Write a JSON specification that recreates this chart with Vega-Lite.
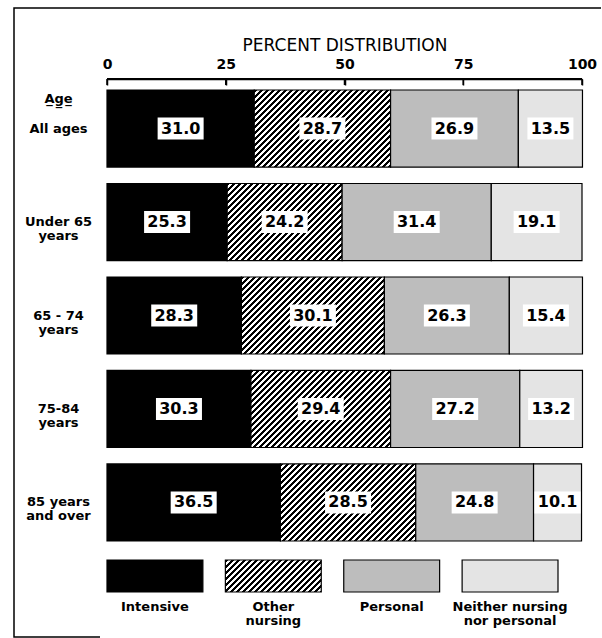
{
  "$schema": "https://vega.github.io/schema/vega-lite/v6.json",
  "width": 587,
  "height": 629,
  "autosize": {"type": "none"},
  "padding": {"left": 14, "top": 8, "right": 1, "bottom": 1},
  "background": "white",
  "config": {"view": {"stroke": "#000", "strokeWidth": 1.5, "strokeDash": [587, 1130, 715]}, "font": "DejaVu Sans"},
  "datasets": {
    "bars": [
      {"age": "All ages", "cat": "Intensive", "k": 1, "pct": 31.0},
      {"age": "All ages", "cat": "Other nursing", "k": 2, "pct": 28.7},
      {"age": "All ages", "cat": "Personal", "k": 3, "pct": 26.9},
      {"age": "All ages", "cat": "Neither nursing nor personal", "k": 4, "pct": 13.5},
      {"age": "Under 65\nyears", "cat": "Intensive", "k": 1, "pct": 25.3},
      {"age": "Under 65\nyears", "cat": "Other nursing", "k": 2, "pct": 24.2},
      {"age": "Under 65\nyears", "cat": "Personal", "k": 3, "pct": 31.4},
      {"age": "Under 65\nyears", "cat": "Neither nursing nor personal", "k": 4, "pct": 19.1},
      {"age": "65 - 74\nyears", "cat": "Intensive", "k": 1, "pct": 28.3},
      {"age": "65 - 74\nyears", "cat": "Other nursing", "k": 2, "pct": 30.1},
      {"age": "65 - 74\nyears", "cat": "Personal", "k": 3, "pct": 26.3},
      {"age": "65 - 74\nyears", "cat": "Neither nursing nor personal", "k": 4, "pct": 15.4},
      {"age": "75-84\nyears", "cat": "Intensive", "k": 1, "pct": 30.3},
      {"age": "75-84\nyears", "cat": "Other nursing", "k": 2, "pct": 29.4},
      {"age": "75-84\nyears", "cat": "Personal", "k": 3, "pct": 27.2},
      {"age": "75-84\nyears", "cat": "Neither nursing nor personal", "k": 4, "pct": 13.2},
      {"age": "85 years\nand over", "cat": "Intensive", "k": 1, "pct": 36.5},
      {"age": "85 years\nand over", "cat": "Other nursing", "k": 2, "pct": 28.5},
      {"age": "85 years\nand over", "cat": "Personal", "k": 3, "pct": 24.8},
      {"age": "85 years\nand over", "cat": "Neither nursing nor personal", "k": 4, "pct": 10.1}
    ],
    "legend": [
      {"cat": "Intensive", "label": "Intensive"},
      {"cat": "Other nursing", "label": "Other\nnursing"},
      {"cat": "Personal", "label": "Personal"},
      {"cat": "Neither nursing nor personal", "label": "Neither nursing\nnor personal"}
    ],
    "ticks": [{"t": 0}, {"t": 25}, {"t": 50}, {"t": 75}, {"t": 100}]
  },
  "layer": [
    {
      "data": {"name": "bars"},
      "encoding": {
        "y": {
          "field": "age", "type": "nominal", "sort": null,
          "scale": {"domain": ["All ages", "Under 65\nyears", "65 - 74\nyears", "75-84\nyears", "85 years\nand over"], "range": [82, 533], "paddingInner": 0.176, "paddingOuter": 0},
          "axis": {
            "orient": "left", "offset": -93, "domain": false, "ticks": false,
            "labelAlign": "center", "labelPadding": 49, "labelBaseline": "middle",
            "labelFont": "DejaVu Sans", "labelFontWeight": "bold", "labelFontSize": 13, "labelColor": "#000",
            "labelLineHeight": 14, "labelExpr": "split(datum.value, '\\n')",
            "title": "A\u0332g\u0332e\u0332", "titleAngle": 0, "titleAlign": "center", "titleBaseline": "middle",
            "titleX": -49, "titleY": 90, "titleFont": "DejaVu Sans", "titleFontSize": 13, "titleFontWeight": "bold", "titleColor": "#000"
          }
        },
        "detail": {"field": "cat"},
        "order": {"field": "k"}
      },
      "layer": [
        {
          "mark": {"type": "bar", "stroke": "#000", "strokeWidth": 1.2},
          "encoding": {
            "x": {
              "field": "pct", "type": "quantitative", "stack": "zero",
              "scale": {"domain": [0, 100], "range": [93, 568], "nice": false, "zero": false},
              "axis": {
                "orient": "top", "offset": -71, "values": [0, 25, 50, 75, 100],
                "domain": true, "domainColor": "#000", "domainWidth": 1.5,
                "ticks": true, "tickSize": -6, "tickColor": "#000", "tickWidth": 1.5, "grid": false,
                "labelPadding": 14, "labelFont": "DejaVu Sans", "labelFontSize": 14, "labelFontWeight": "bold", "labelColor": "#000",
                "labelFlush": false, "labelOverlap": false,
                "title": "PERCENT DISTRIBUTION", "titleFont": "DejaVu Sans", "titleFontSize": 17, "titleFontWeight": "normal", "titleColor": "#000", "titlePadding": 3
              }
            },
            "fill": {
              "condition": [
                {"test": "datum.cat === 'Intensive'", "value": "#000"},
                {"test": "datum.cat === 'Other nursing' && datum.pct === 28.7", "value": {"gradient": "linear", "x1": 0, "y1": 0, "x2": 1.3344, "y2": 0.7541, "stops": [
{"offset":0,"color":"#000"},{"offset":0.0125,"color":"#000"},{"offset":0.0125,"color":"#fff"},{"offset":0.025,"color":"#fff"},
{"offset":0.025,"color":"#000"},{"offset":0.0375,"color":"#000"},{"offset":0.0375,"color":"#fff"},{"offset":0.05,"color":"#fff"},
{"offset":0.05,"color":"#000"},{"offset":0.0625,"color":"#000"},{"offset":0.0625,"color":"#fff"},{"offset":0.075,"color":"#fff"},
{"offset":0.075,"color":"#000"},{"offset":0.0875,"color":"#000"},{"offset":0.0875,"color":"#fff"},{"offset":0.1,"color":"#fff"},
{"offset":0.1,"color":"#000"},{"offset":0.1125,"color":"#000"},{"offset":0.1125,"color":"#fff"},{"offset":0.125,"color":"#fff"},
{"offset":0.125,"color":"#000"},{"offset":0.1375,"color":"#000"},{"offset":0.1375,"color":"#fff"},{"offset":0.15,"color":"#fff"},
{"offset":0.15,"color":"#000"},{"offset":0.1625,"color":"#000"},{"offset":0.1625,"color":"#fff"},{"offset":0.175,"color":"#fff"},
{"offset":0.175,"color":"#000"},{"offset":0.1875,"color":"#000"},{"offset":0.1875,"color":"#fff"},{"offset":0.2,"color":"#fff"},
{"offset":0.2,"color":"#000"},{"offset":0.2125,"color":"#000"},{"offset":0.2125,"color":"#fff"},{"offset":0.225,"color":"#fff"},
{"offset":0.225,"color":"#000"},{"offset":0.2375,"color":"#000"},{"offset":0.2375,"color":"#fff"},{"offset":0.25,"color":"#fff"},
{"offset":0.25,"color":"#000"},{"offset":0.2625,"color":"#000"},{"offset":0.2625,"color":"#fff"},{"offset":0.275,"color":"#fff"},
{"offset":0.275,"color":"#000"},{"offset":0.2875,"color":"#000"},{"offset":0.2875,"color":"#fff"},{"offset":0.3,"color":"#fff"},
{"offset":0.3,"color":"#000"},{"offset":0.3125,"color":"#000"},{"offset":0.3125,"color":"#fff"},{"offset":0.325,"color":"#fff"},
{"offset":0.325,"color":"#000"},{"offset":0.3375,"color":"#000"},{"offset":0.3375,"color":"#fff"},{"offset":0.35,"color":"#fff"},
{"offset":0.35,"color":"#000"},{"offset":0.3625,"color":"#000"},{"offset":0.3625,"color":"#fff"},{"offset":0.375,"color":"#fff"},
{"offset":0.375,"color":"#000"},{"offset":0.3875,"color":"#000"},{"offset":0.3875,"color":"#fff"},{"offset":0.4,"color":"#fff"},
{"offset":0.4,"color":"#000"},{"offset":0.4125,"color":"#000"},{"offset":0.4125,"color":"#fff"},{"offset":0.425,"color":"#fff"},
{"offset":0.425,"color":"#000"},{"offset":0.4375,"color":"#000"},{"offset":0.4375,"color":"#fff"},{"offset":0.45,"color":"#fff"},
{"offset":0.45,"color":"#000"},{"offset":0.4625,"color":"#000"},{"offset":0.4625,"color":"#fff"},{"offset":0.475,"color":"#fff"},
{"offset":0.475,"color":"#000"},{"offset":0.4875,"color":"#000"},{"offset":0.4875,"color":"#fff"},{"offset":0.5,"color":"#fff"},
{"offset":0.5,"color":"#000"},{"offset":0.5125,"color":"#000"},{"offset":0.5125,"color":"#fff"},{"offset":0.525,"color":"#fff"},
{"offset":0.525,"color":"#000"},{"offset":0.5375,"color":"#000"},{"offset":0.5375,"color":"#fff"},{"offset":0.55,"color":"#fff"},
{"offset":0.55,"color":"#000"},{"offset":0.5625,"color":"#000"},{"offset":0.5625,"color":"#fff"},{"offset":0.575,"color":"#fff"},
{"offset":0.575,"color":"#000"},{"offset":0.5875,"color":"#000"},{"offset":0.5875,"color":"#fff"},{"offset":0.6,"color":"#fff"},
{"offset":0.6,"color":"#000"},{"offset":0.6125,"color":"#000"},{"offset":0.6125,"color":"#fff"},{"offset":0.625,"color":"#fff"},
{"offset":0.625,"color":"#000"},{"offset":0.6375,"color":"#000"},{"offset":0.6375,"color":"#fff"},{"offset":0.65,"color":"#fff"},
{"offset":0.65,"color":"#000"},{"offset":0.6625,"color":"#000"},{"offset":0.6625,"color":"#fff"},{"offset":0.675,"color":"#fff"},
{"offset":0.675,"color":"#000"},{"offset":0.6875,"color":"#000"},{"offset":0.6875,"color":"#fff"},{"offset":0.7,"color":"#fff"},
{"offset":0.7,"color":"#000"},{"offset":0.7125,"color":"#000"},{"offset":0.7125,"color":"#fff"},{"offset":0.725,"color":"#fff"},
{"offset":0.725,"color":"#000"},{"offset":0.7375,"color":"#000"},{"offset":0.7375,"color":"#fff"},{"offset":0.75,"color":"#fff"},
{"offset":0.75,"color":"#000"},{"offset":0.7625,"color":"#000"},{"offset":0.7625,"color":"#fff"},{"offset":0.775,"color":"#fff"},
{"offset":0.775,"color":"#000"},{"offset":0.7875,"color":"#000"},{"offset":0.7875,"color":"#fff"},{"offset":0.8,"color":"#fff"},
{"offset":0.8,"color":"#000"},{"offset":0.8125,"color":"#000"},{"offset":0.8125,"color":"#fff"},{"offset":0.825,"color":"#fff"},
{"offset":0.825,"color":"#000"},{"offset":0.8375,"color":"#000"},{"offset":0.8375,"color":"#fff"},{"offset":0.85,"color":"#fff"},
{"offset":0.85,"color":"#000"},{"offset":0.8625,"color":"#000"},{"offset":0.8625,"color":"#fff"},{"offset":0.875,"color":"#fff"},
{"offset":0.875,"color":"#000"},{"offset":0.8875,"color":"#000"},{"offset":0.8875,"color":"#fff"},{"offset":0.9,"color":"#fff"},
{"offset":0.9,"color":"#000"},{"offset":0.9125,"color":"#000"},{"offset":0.9125,"color":"#fff"},{"offset":0.925,"color":"#fff"}
                ]}},
                {"test": "datum.cat === 'Other nursing' && datum.pct === 24.2", "value": {"gradient": "linear", "x1": 0, "y1": 0, "x2": 1.4407, "y2": 0.9656, "stops": [
{"offset":0,"color":"#000"},{"offset":0.0125,"color":"#000"},{"offset":0.0125,"color":"#fff"},{"offset":0.025,"color":"#fff"},
{"offset":0.025,"color":"#000"},{"offset":0.0375,"color":"#000"},{"offset":0.0375,"color":"#fff"},{"offset":0.05,"color":"#fff"},
{"offset":0.05,"color":"#000"},{"offset":0.0625,"color":"#000"},{"offset":0.0625,"color":"#fff"},{"offset":0.075,"color":"#fff"},
{"offset":0.075,"color":"#000"},{"offset":0.0875,"color":"#000"},{"offset":0.0875,"color":"#fff"},{"offset":0.1,"color":"#fff"},
{"offset":0.1,"color":"#000"},{"offset":0.1125,"color":"#000"},{"offset":0.1125,"color":"#fff"},{"offset":0.125,"color":"#fff"},
{"offset":0.125,"color":"#000"},{"offset":0.1375,"color":"#000"},{"offset":0.1375,"color":"#fff"},{"offset":0.15,"color":"#fff"},
{"offset":0.15,"color":"#000"},{"offset":0.1625,"color":"#000"},{"offset":0.1625,"color":"#fff"},{"offset":0.175,"color":"#fff"},
{"offset":0.175,"color":"#000"},{"offset":0.1875,"color":"#000"},{"offset":0.1875,"color":"#fff"},{"offset":0.2,"color":"#fff"},
{"offset":0.2,"color":"#000"},{"offset":0.2125,"color":"#000"},{"offset":0.2125,"color":"#fff"},{"offset":0.225,"color":"#fff"},
{"offset":0.225,"color":"#000"},{"offset":0.2375,"color":"#000"},{"offset":0.2375,"color":"#fff"},{"offset":0.25,"color":"#fff"},
{"offset":0.25,"color":"#000"},{"offset":0.2625,"color":"#000"},{"offset":0.2625,"color":"#fff"},{"offset":0.275,"color":"#fff"},
{"offset":0.275,"color":"#000"},{"offset":0.2875,"color":"#000"},{"offset":0.2875,"color":"#fff"},{"offset":0.3,"color":"#fff"},
{"offset":0.3,"color":"#000"},{"offset":0.3125,"color":"#000"},{"offset":0.3125,"color":"#fff"},{"offset":0.325,"color":"#fff"},
{"offset":0.325,"color":"#000"},{"offset":0.3375,"color":"#000"},{"offset":0.3375,"color":"#fff"},{"offset":0.35,"color":"#fff"},
{"offset":0.35,"color":"#000"},{"offset":0.3625,"color":"#000"},{"offset":0.3625,"color":"#fff"},{"offset":0.375,"color":"#fff"},
{"offset":0.375,"color":"#000"},{"offset":0.3875,"color":"#000"},{"offset":0.3875,"color":"#fff"},{"offset":0.4,"color":"#fff"},
{"offset":0.4,"color":"#000"},{"offset":0.4125,"color":"#000"},{"offset":0.4125,"color":"#fff"},{"offset":0.425,"color":"#fff"},
{"offset":0.425,"color":"#000"},{"offset":0.4375,"color":"#000"},{"offset":0.4375,"color":"#fff"},{"offset":0.45,"color":"#fff"},
{"offset":0.45,"color":"#000"},{"offset":0.4625,"color":"#000"},{"offset":0.4625,"color":"#fff"},{"offset":0.475,"color":"#fff"},
{"offset":0.475,"color":"#000"},{"offset":0.4875,"color":"#000"},{"offset":0.4875,"color":"#fff"},{"offset":0.5,"color":"#fff"},
{"offset":0.5,"color":"#000"},{"offset":0.5125,"color":"#000"},{"offset":0.5125,"color":"#fff"},{"offset":0.525,"color":"#fff"},
{"offset":0.525,"color":"#000"},{"offset":0.5375,"color":"#000"},{"offset":0.5375,"color":"#fff"},{"offset":0.55,"color":"#fff"},
{"offset":0.55,"color":"#000"},{"offset":0.5625,"color":"#000"},{"offset":0.5625,"color":"#fff"},{"offset":0.575,"color":"#fff"},
{"offset":0.575,"color":"#000"},{"offset":0.5875,"color":"#000"},{"offset":0.5875,"color":"#fff"},{"offset":0.6,"color":"#fff"},
{"offset":0.6,"color":"#000"},{"offset":0.6125,"color":"#000"},{"offset":0.6125,"color":"#fff"},{"offset":0.625,"color":"#fff"},
{"offset":0.625,"color":"#000"},{"offset":0.6375,"color":"#000"},{"offset":0.6375,"color":"#fff"},{"offset":0.65,"color":"#fff"},
{"offset":0.65,"color":"#000"},{"offset":0.6625,"color":"#000"},{"offset":0.6625,"color":"#fff"},{"offset":0.675,"color":"#fff"},
{"offset":0.675,"color":"#000"},{"offset":0.6875,"color":"#000"},{"offset":0.6875,"color":"#fff"},{"offset":0.7,"color":"#fff"},
{"offset":0.7,"color":"#000"},{"offset":0.7125,"color":"#000"},{"offset":0.7125,"color":"#fff"},{"offset":0.725,"color":"#fff"},
{"offset":0.725,"color":"#000"},{"offset":0.7375,"color":"#000"},{"offset":0.7375,"color":"#fff"},{"offset":0.75,"color":"#fff"},
{"offset":0.75,"color":"#000"},{"offset":0.7625,"color":"#000"},{"offset":0.7625,"color":"#fff"},{"offset":0.775,"color":"#fff"},
{"offset":0.775,"color":"#000"},{"offset":0.7875,"color":"#000"},{"offset":0.7875,"color":"#fff"},{"offset":0.8,"color":"#fff"},
{"offset":0.8,"color":"#000"},{"offset":0.8125,"color":"#000"},{"offset":0.8125,"color":"#fff"},{"offset":0.825,"color":"#fff"}
                ]}},
                {"test": "datum.cat === 'Other nursing' && datum.pct === 30.1", "value": {"gradient": "linear", "x1": 0, "y1": 0, "x2": 1.3009, "y2": 0.701, "stops": [
{"offset":0,"color":"#000"},{"offset":0.0125,"color":"#000"},{"offset":0.0125,"color":"#fff"},{"offset":0.025,"color":"#fff"},
{"offset":0.025,"color":"#000"},{"offset":0.0375,"color":"#000"},{"offset":0.0375,"color":"#fff"},{"offset":0.05,"color":"#fff"},
{"offset":0.05,"color":"#000"},{"offset":0.0625,"color":"#000"},{"offset":0.0625,"color":"#fff"},{"offset":0.075,"color":"#fff"},
{"offset":0.075,"color":"#000"},{"offset":0.0875,"color":"#000"},{"offset":0.0875,"color":"#fff"},{"offset":0.1,"color":"#fff"},
{"offset":0.1,"color":"#000"},{"offset":0.1125,"color":"#000"},{"offset":0.1125,"color":"#fff"},{"offset":0.125,"color":"#fff"},
{"offset":0.125,"color":"#000"},{"offset":0.1375,"color":"#000"},{"offset":0.1375,"color":"#fff"},{"offset":0.15,"color":"#fff"},
{"offset":0.15,"color":"#000"},{"offset":0.1625,"color":"#000"},{"offset":0.1625,"color":"#fff"},{"offset":0.175,"color":"#fff"},
{"offset":0.175,"color":"#000"},{"offset":0.1875,"color":"#000"},{"offset":0.1875,"color":"#fff"},{"offset":0.2,"color":"#fff"},
{"offset":0.2,"color":"#000"},{"offset":0.2125,"color":"#000"},{"offset":0.2125,"color":"#fff"},{"offset":0.225,"color":"#fff"},
{"offset":0.225,"color":"#000"},{"offset":0.2375,"color":"#000"},{"offset":0.2375,"color":"#fff"},{"offset":0.25,"color":"#fff"},
{"offset":0.25,"color":"#000"},{"offset":0.2625,"color":"#000"},{"offset":0.2625,"color":"#fff"},{"offset":0.275,"color":"#fff"},
{"offset":0.275,"color":"#000"},{"offset":0.2875,"color":"#000"},{"offset":0.2875,"color":"#fff"},{"offset":0.3,"color":"#fff"},
{"offset":0.3,"color":"#000"},{"offset":0.3125,"color":"#000"},{"offset":0.3125,"color":"#fff"},{"offset":0.325,"color":"#fff"},
{"offset":0.325,"color":"#000"},{"offset":0.3375,"color":"#000"},{"offset":0.3375,"color":"#fff"},{"offset":0.35,"color":"#fff"},
{"offset":0.35,"color":"#000"},{"offset":0.3625,"color":"#000"},{"offset":0.3625,"color":"#fff"},{"offset":0.375,"color":"#fff"},
{"offset":0.375,"color":"#000"},{"offset":0.3875,"color":"#000"},{"offset":0.3875,"color":"#fff"},{"offset":0.4,"color":"#fff"},
{"offset":0.4,"color":"#000"},{"offset":0.4125,"color":"#000"},{"offset":0.4125,"color":"#fff"},{"offset":0.425,"color":"#fff"},
{"offset":0.425,"color":"#000"},{"offset":0.4375,"color":"#000"},{"offset":0.4375,"color":"#fff"},{"offset":0.45,"color":"#fff"},
{"offset":0.45,"color":"#000"},{"offset":0.4625,"color":"#000"},{"offset":0.4625,"color":"#fff"},{"offset":0.475,"color":"#fff"},
{"offset":0.475,"color":"#000"},{"offset":0.4875,"color":"#000"},{"offset":0.4875,"color":"#fff"},{"offset":0.5,"color":"#fff"},
{"offset":0.5,"color":"#000"},{"offset":0.5125,"color":"#000"},{"offset":0.5125,"color":"#fff"},{"offset":0.525,"color":"#fff"},
{"offset":0.525,"color":"#000"},{"offset":0.5375,"color":"#000"},{"offset":0.5375,"color":"#fff"},{"offset":0.55,"color":"#fff"},
{"offset":0.55,"color":"#000"},{"offset":0.5625,"color":"#000"},{"offset":0.5625,"color":"#fff"},{"offset":0.575,"color":"#fff"},
{"offset":0.575,"color":"#000"},{"offset":0.5875,"color":"#000"},{"offset":0.5875,"color":"#fff"},{"offset":0.6,"color":"#fff"},
{"offset":0.6,"color":"#000"},{"offset":0.6125,"color":"#000"},{"offset":0.6125,"color":"#fff"},{"offset":0.625,"color":"#fff"},
{"offset":0.625,"color":"#000"},{"offset":0.6375,"color":"#000"},{"offset":0.6375,"color":"#fff"},{"offset":0.65,"color":"#fff"},
{"offset":0.65,"color":"#000"},{"offset":0.6625,"color":"#000"},{"offset":0.6625,"color":"#fff"},{"offset":0.675,"color":"#fff"},
{"offset":0.675,"color":"#000"},{"offset":0.6875,"color":"#000"},{"offset":0.6875,"color":"#fff"},{"offset":0.7,"color":"#fff"},
{"offset":0.7,"color":"#000"},{"offset":0.7125,"color":"#000"},{"offset":0.7125,"color":"#fff"},{"offset":0.725,"color":"#fff"},
{"offset":0.725,"color":"#000"},{"offset":0.7375,"color":"#000"},{"offset":0.7375,"color":"#fff"},{"offset":0.75,"color":"#fff"},
{"offset":0.75,"color":"#000"},{"offset":0.7625,"color":"#000"},{"offset":0.7625,"color":"#fff"},{"offset":0.775,"color":"#fff"},
{"offset":0.775,"color":"#000"},{"offset":0.7875,"color":"#000"},{"offset":0.7875,"color":"#fff"},{"offset":0.8,"color":"#fff"},
{"offset":0.8,"color":"#000"},{"offset":0.8125,"color":"#000"},{"offset":0.8125,"color":"#fff"},{"offset":0.825,"color":"#fff"},
{"offset":0.825,"color":"#000"},{"offset":0.8375,"color":"#000"},{"offset":0.8375,"color":"#fff"},{"offset":0.85,"color":"#fff"},
{"offset":0.85,"color":"#000"},{"offset":0.8625,"color":"#000"},{"offset":0.8625,"color":"#fff"},{"offset":0.875,"color":"#fff"},
{"offset":0.875,"color":"#000"},{"offset":0.8875,"color":"#000"},{"offset":0.8875,"color":"#fff"},{"offset":0.9,"color":"#fff"},
{"offset":0.9,"color":"#000"},{"offset":0.9125,"color":"#000"},{"offset":0.9125,"color":"#fff"},{"offset":0.925,"color":"#fff"}
                ]}},
                {"test": "datum.cat === 'Other nursing' && datum.pct === 29.4", "value": {"gradient": "linear", "x1": 0, "y1": 0, "x2": 1.3176, "y2": 0.7269, "stops": [
{"offset":0,"color":"#000"},{"offset":0.0125,"color":"#000"},{"offset":0.0125,"color":"#fff"},{"offset":0.025,"color":"#fff"},
{"offset":0.025,"color":"#000"},{"offset":0.0375,"color":"#000"},{"offset":0.0375,"color":"#fff"},{"offset":0.05,"color":"#fff"},
{"offset":0.05,"color":"#000"},{"offset":0.0625,"color":"#000"},{"offset":0.0625,"color":"#fff"},{"offset":0.075,"color":"#fff"},
{"offset":0.075,"color":"#000"},{"offset":0.0875,"color":"#000"},{"offset":0.0875,"color":"#fff"},{"offset":0.1,"color":"#fff"},
{"offset":0.1,"color":"#000"},{"offset":0.1125,"color":"#000"},{"offset":0.1125,"color":"#fff"},{"offset":0.125,"color":"#fff"},
{"offset":0.125,"color":"#000"},{"offset":0.1375,"color":"#000"},{"offset":0.1375,"color":"#fff"},{"offset":0.15,"color":"#fff"},
{"offset":0.15,"color":"#000"},{"offset":0.1625,"color":"#000"},{"offset":0.1625,"color":"#fff"},{"offset":0.175,"color":"#fff"},
{"offset":0.175,"color":"#000"},{"offset":0.1875,"color":"#000"},{"offset":0.1875,"color":"#fff"},{"offset":0.2,"color":"#fff"},
{"offset":0.2,"color":"#000"},{"offset":0.2125,"color":"#000"},{"offset":0.2125,"color":"#fff"},{"offset":0.225,"color":"#fff"},
{"offset":0.225,"color":"#000"},{"offset":0.2375,"color":"#000"},{"offset":0.2375,"color":"#fff"},{"offset":0.25,"color":"#fff"},
{"offset":0.25,"color":"#000"},{"offset":0.2625,"color":"#000"},{"offset":0.2625,"color":"#fff"},{"offset":0.275,"color":"#fff"},
{"offset":0.275,"color":"#000"},{"offset":0.2875,"color":"#000"},{"offset":0.2875,"color":"#fff"},{"offset":0.3,"color":"#fff"},
{"offset":0.3,"color":"#000"},{"offset":0.3125,"color":"#000"},{"offset":0.3125,"color":"#fff"},{"offset":0.325,"color":"#fff"},
{"offset":0.325,"color":"#000"},{"offset":0.3375,"color":"#000"},{"offset":0.3375,"color":"#fff"},{"offset":0.35,"color":"#fff"},
{"offset":0.35,"color":"#000"},{"offset":0.3625,"color":"#000"},{"offset":0.3625,"color":"#fff"},{"offset":0.375,"color":"#fff"},
{"offset":0.375,"color":"#000"},{"offset":0.3875,"color":"#000"},{"offset":0.3875,"color":"#fff"},{"offset":0.4,"color":"#fff"},
{"offset":0.4,"color":"#000"},{"offset":0.4125,"color":"#000"},{"offset":0.4125,"color":"#fff"},{"offset":0.425,"color":"#fff"},
{"offset":0.425,"color":"#000"},{"offset":0.4375,"color":"#000"},{"offset":0.4375,"color":"#fff"},{"offset":0.45,"color":"#fff"},
{"offset":0.45,"color":"#000"},{"offset":0.4625,"color":"#000"},{"offset":0.4625,"color":"#fff"},{"offset":0.475,"color":"#fff"},
{"offset":0.475,"color":"#000"},{"offset":0.4875,"color":"#000"},{"offset":0.4875,"color":"#fff"},{"offset":0.5,"color":"#fff"},
{"offset":0.5,"color":"#000"},{"offset":0.5125,"color":"#000"},{"offset":0.5125,"color":"#fff"},{"offset":0.525,"color":"#fff"},
{"offset":0.525,"color":"#000"},{"offset":0.5375,"color":"#000"},{"offset":0.5375,"color":"#fff"},{"offset":0.55,"color":"#fff"},
{"offset":0.55,"color":"#000"},{"offset":0.5625,"color":"#000"},{"offset":0.5625,"color":"#fff"},{"offset":0.575,"color":"#fff"},
{"offset":0.575,"color":"#000"},{"offset":0.5875,"color":"#000"},{"offset":0.5875,"color":"#fff"},{"offset":0.6,"color":"#fff"},
{"offset":0.6,"color":"#000"},{"offset":0.6125,"color":"#000"},{"offset":0.6125,"color":"#fff"},{"offset":0.625,"color":"#fff"},
{"offset":0.625,"color":"#000"},{"offset":0.6375,"color":"#000"},{"offset":0.6375,"color":"#fff"},{"offset":0.65,"color":"#fff"},
{"offset":0.65,"color":"#000"},{"offset":0.6625,"color":"#000"},{"offset":0.6625,"color":"#fff"},{"offset":0.675,"color":"#fff"},
{"offset":0.675,"color":"#000"},{"offset":0.6875,"color":"#000"},{"offset":0.6875,"color":"#fff"},{"offset":0.7,"color":"#fff"},
{"offset":0.7,"color":"#000"},{"offset":0.7125,"color":"#000"},{"offset":0.7125,"color":"#fff"},{"offset":0.725,"color":"#fff"},
{"offset":0.725,"color":"#000"},{"offset":0.7375,"color":"#000"},{"offset":0.7375,"color":"#fff"},{"offset":0.75,"color":"#fff"},
{"offset":0.75,"color":"#000"},{"offset":0.7625,"color":"#000"},{"offset":0.7625,"color":"#fff"},{"offset":0.775,"color":"#fff"},
{"offset":0.775,"color":"#000"},{"offset":0.7875,"color":"#000"},{"offset":0.7875,"color":"#fff"},{"offset":0.8,"color":"#fff"},
{"offset":0.8,"color":"#000"},{"offset":0.8125,"color":"#000"},{"offset":0.8125,"color":"#fff"},{"offset":0.825,"color":"#fff"},
{"offset":0.825,"color":"#000"},{"offset":0.8375,"color":"#000"},{"offset":0.8375,"color":"#fff"},{"offset":0.85,"color":"#fff"},
{"offset":0.85,"color":"#000"},{"offset":0.8625,"color":"#000"},{"offset":0.8625,"color":"#fff"},{"offset":0.875,"color":"#fff"},
{"offset":0.875,"color":"#000"},{"offset":0.8875,"color":"#000"},{"offset":0.8875,"color":"#fff"},{"offset":0.9,"color":"#fff"},
{"offset":0.9,"color":"#000"},{"offset":0.9125,"color":"#000"},{"offset":0.9125,"color":"#fff"},{"offset":0.925,"color":"#fff"}
                ]}},
                {"test": "datum.cat === 'Other nursing' && datum.pct === 28.5", "value": {"gradient": "linear", "x1": 0, "y1": 0, "x2": 1.3392, "y2": 0.7621, "stops": [
{"offset":0,"color":"#000"},{"offset":0.0125,"color":"#000"},{"offset":0.0125,"color":"#fff"},{"offset":0.025,"color":"#fff"},
{"offset":0.025,"color":"#000"},{"offset":0.0375,"color":"#000"},{"offset":0.0375,"color":"#fff"},{"offset":0.05,"color":"#fff"},
{"offset":0.05,"color":"#000"},{"offset":0.0625,"color":"#000"},{"offset":0.0625,"color":"#fff"},{"offset":0.075,"color":"#fff"},
{"offset":0.075,"color":"#000"},{"offset":0.0875,"color":"#000"},{"offset":0.0875,"color":"#fff"},{"offset":0.1,"color":"#fff"},
{"offset":0.1,"color":"#000"},{"offset":0.1125,"color":"#000"},{"offset":0.1125,"color":"#fff"},{"offset":0.125,"color":"#fff"},
{"offset":0.125,"color":"#000"},{"offset":0.1375,"color":"#000"},{"offset":0.1375,"color":"#fff"},{"offset":0.15,"color":"#fff"},
{"offset":0.15,"color":"#000"},{"offset":0.1625,"color":"#000"},{"offset":0.1625,"color":"#fff"},{"offset":0.175,"color":"#fff"},
{"offset":0.175,"color":"#000"},{"offset":0.1875,"color":"#000"},{"offset":0.1875,"color":"#fff"},{"offset":0.2,"color":"#fff"},
{"offset":0.2,"color":"#000"},{"offset":0.2125,"color":"#000"},{"offset":0.2125,"color":"#fff"},{"offset":0.225,"color":"#fff"},
{"offset":0.225,"color":"#000"},{"offset":0.2375,"color":"#000"},{"offset":0.2375,"color":"#fff"},{"offset":0.25,"color":"#fff"},
{"offset":0.25,"color":"#000"},{"offset":0.2625,"color":"#000"},{"offset":0.2625,"color":"#fff"},{"offset":0.275,"color":"#fff"},
{"offset":0.275,"color":"#000"},{"offset":0.2875,"color":"#000"},{"offset":0.2875,"color":"#fff"},{"offset":0.3,"color":"#fff"},
{"offset":0.3,"color":"#000"},{"offset":0.3125,"color":"#000"},{"offset":0.3125,"color":"#fff"},{"offset":0.325,"color":"#fff"},
{"offset":0.325,"color":"#000"},{"offset":0.3375,"color":"#000"},{"offset":0.3375,"color":"#fff"},{"offset":0.35,"color":"#fff"},
{"offset":0.35,"color":"#000"},{"offset":0.3625,"color":"#000"},{"offset":0.3625,"color":"#fff"},{"offset":0.375,"color":"#fff"},
{"offset":0.375,"color":"#000"},{"offset":0.3875,"color":"#000"},{"offset":0.3875,"color":"#fff"},{"offset":0.4,"color":"#fff"},
{"offset":0.4,"color":"#000"},{"offset":0.4125,"color":"#000"},{"offset":0.4125,"color":"#fff"},{"offset":0.425,"color":"#fff"},
{"offset":0.425,"color":"#000"},{"offset":0.4375,"color":"#000"},{"offset":0.4375,"color":"#fff"},{"offset":0.45,"color":"#fff"},
{"offset":0.45,"color":"#000"},{"offset":0.4625,"color":"#000"},{"offset":0.4625,"color":"#fff"},{"offset":0.475,"color":"#fff"},
{"offset":0.475,"color":"#000"},{"offset":0.4875,"color":"#000"},{"offset":0.4875,"color":"#fff"},{"offset":0.5,"color":"#fff"},
{"offset":0.5,"color":"#000"},{"offset":0.5125,"color":"#000"},{"offset":0.5125,"color":"#fff"},{"offset":0.525,"color":"#fff"},
{"offset":0.525,"color":"#000"},{"offset":0.5375,"color":"#000"},{"offset":0.5375,"color":"#fff"},{"offset":0.55,"color":"#fff"},
{"offset":0.55,"color":"#000"},{"offset":0.5625,"color":"#000"},{"offset":0.5625,"color":"#fff"},{"offset":0.575,"color":"#fff"},
{"offset":0.575,"color":"#000"},{"offset":0.5875,"color":"#000"},{"offset":0.5875,"color":"#fff"},{"offset":0.6,"color":"#fff"},
{"offset":0.6,"color":"#000"},{"offset":0.6125,"color":"#000"},{"offset":0.6125,"color":"#fff"},{"offset":0.625,"color":"#fff"},
{"offset":0.625,"color":"#000"},{"offset":0.6375,"color":"#000"},{"offset":0.6375,"color":"#fff"},{"offset":0.65,"color":"#fff"},
{"offset":0.65,"color":"#000"},{"offset":0.6625,"color":"#000"},{"offset":0.6625,"color":"#fff"},{"offset":0.675,"color":"#fff"},
{"offset":0.675,"color":"#000"},{"offset":0.6875,"color":"#000"},{"offset":0.6875,"color":"#fff"},{"offset":0.7,"color":"#fff"},
{"offset":0.7,"color":"#000"},{"offset":0.7125,"color":"#000"},{"offset":0.7125,"color":"#fff"},{"offset":0.725,"color":"#fff"},
{"offset":0.725,"color":"#000"},{"offset":0.7375,"color":"#000"},{"offset":0.7375,"color":"#fff"},{"offset":0.75,"color":"#fff"},
{"offset":0.75,"color":"#000"},{"offset":0.7625,"color":"#000"},{"offset":0.7625,"color":"#fff"},{"offset":0.775,"color":"#fff"},
{"offset":0.775,"color":"#000"},{"offset":0.7875,"color":"#000"},{"offset":0.7875,"color":"#fff"},{"offset":0.8,"color":"#fff"},
{"offset":0.8,"color":"#000"},{"offset":0.8125,"color":"#000"},{"offset":0.8125,"color":"#fff"},{"offset":0.825,"color":"#fff"},
{"offset":0.825,"color":"#000"},{"offset":0.8375,"color":"#000"},{"offset":0.8375,"color":"#fff"},{"offset":0.85,"color":"#fff"},
{"offset":0.85,"color":"#000"},{"offset":0.8625,"color":"#000"},{"offset":0.8625,"color":"#fff"},{"offset":0.875,"color":"#fff"},
{"offset":0.875,"color":"#000"},{"offset":0.8875,"color":"#000"},{"offset":0.8875,"color":"#fff"},{"offset":0.9,"color":"#fff"}
                ]}},
                {"test": "datum.cat === 'Personal'", "value": "#bdbdbd"}
              ],
              "value": "#e4e4e4"
            }
          }
        },
        {
          "mark": {"type": "point", "shape": "M-1,-0.48H1V0.48H-1Z", "size": 2116, "filled": true, "fill": "#fff", "color": "#fff", "strokeWidth": 0, "opacity": 1},
          "encoding": {
            "x": {
              "field": "pct", "type": "quantitative", "stack": "zero", "bandPosition": 0.5,
              "scale": {"domain": [0, 100], "range": [93, 568], "nice": false, "zero": false},
              "axis": {
                "orient": "top", "offset": -71, "values": [0, 25, 50, 75, 100],
                "domain": true, "domainColor": "#000", "domainWidth": 1.5,
                "ticks": true, "tickSize": -6, "tickColor": "#000", "tickWidth": 1.5, "grid": false,
                "labelPadding": 14, "labelFont": "DejaVu Sans", "labelFontSize": 14, "labelFontWeight": "bold", "labelColor": "#000",
                "labelFlush": false, "labelOverlap": false,
                "title": "PERCENT DISTRIBUTION", "titleFont": "DejaVu Sans", "titleFontSize": 17, "titleFontWeight": "normal", "titleColor": "#000", "titlePadding": 3
              }
            }
          }
        },
        {
          "mark": {"type": "text", "font": "DejaVu Sans", "fontSize": 16, "fontWeight": "bold", "color": "#000", "baseline": "middle", "align": "center"},
          "encoding": {
            "x": {
              "field": "pct", "type": "quantitative", "stack": "zero", "bandPosition": 0.5,
              "scale": {"domain": [0, 100], "range": [93, 568], "nice": false, "zero": false},
              "axis": {
                "orient": "top", "offset": -71, "values": [0, 25, 50, 75, 100],
                "domain": true, "domainColor": "#000", "domainWidth": 1.5,
                "ticks": true, "tickSize": -6, "tickColor": "#000", "tickWidth": 1.5, "grid": false,
                "labelPadding": 14, "labelFont": "DejaVu Sans", "labelFontSize": 14, "labelFontWeight": "bold", "labelColor": "#000",
                "labelFlush": false, "labelOverlap": false,
                "title": "PERCENT DISTRIBUTION", "titleFont": "DejaVu Sans", "titleFontSize": 17, "titleFontWeight": "normal", "titleColor": "#000", "titlePadding": 3
              }
            },
            "text": {"field": "pct", "type": "quantitative", "format": ".1f"}
          }
        }
      ]
    },
    {
      "data": {"name": "legend"},
      "encoding": {
        "x": {"field": "cat", "type": "nominal", "sort": null,
              "scale": {"domain": ["Intensive", "Other nursing", "Personal", "Neither nursing nor personal"], "range": [93, 544], "paddingInner": 0.19, "paddingOuter": 0},
              "axis": null}
      },
      "layer": [
        {
          "mark": {"type": "rect", "stroke": "#000", "strokeWidth": 1.2},
          "encoding": {
            "y": {"datum": "swatch", "type": "nominal", "scale": {"domain": ["swatch"], "range": [552, 584], "paddingInner": 0, "paddingOuter": 0}, "axis": null},
            "fill": {
              "condition": [
                {"test": "datum.cat === 'Intensive'", "value": "#000"},
                {"test": "datum.cat === 'Other nursing'", "value": {"gradient": "linear", "x1": 0, "y1": 0, "x2": 2.2523, "y2": 0.7517, "stops": [
{"offset":0,"color":"#000"},{"offset":0.0125,"color":"#000"},{"offset":0.0125,"color":"#fff"},{"offset":0.025,"color":"#fff"},
{"offset":0.025,"color":"#000"},{"offset":0.0375,"color":"#000"},{"offset":0.0375,"color":"#fff"},{"offset":0.05,"color":"#fff"},
{"offset":0.05,"color":"#000"},{"offset":0.0625,"color":"#000"},{"offset":0.0625,"color":"#fff"},{"offset":0.075,"color":"#fff"},
{"offset":0.075,"color":"#000"},{"offset":0.0875,"color":"#000"},{"offset":0.0875,"color":"#fff"},{"offset":0.1,"color":"#fff"},
{"offset":0.1,"color":"#000"},{"offset":0.1125,"color":"#000"},{"offset":0.1125,"color":"#fff"},{"offset":0.125,"color":"#fff"},
{"offset":0.125,"color":"#000"},{"offset":0.1375,"color":"#000"},{"offset":0.1375,"color":"#fff"},{"offset":0.15,"color":"#fff"},
{"offset":0.15,"color":"#000"},{"offset":0.1625,"color":"#000"},{"offset":0.1625,"color":"#fff"},{"offset":0.175,"color":"#fff"},
{"offset":0.175,"color":"#000"},{"offset":0.1875,"color":"#000"},{"offset":0.1875,"color":"#fff"},{"offset":0.2,"color":"#fff"},
{"offset":0.2,"color":"#000"},{"offset":0.2125,"color":"#000"},{"offset":0.2125,"color":"#fff"},{"offset":0.225,"color":"#fff"},
{"offset":0.225,"color":"#000"},{"offset":0.2375,"color":"#000"},{"offset":0.2375,"color":"#fff"},{"offset":0.25,"color":"#fff"},
{"offset":0.25,"color":"#000"},{"offset":0.2625,"color":"#000"},{"offset":0.2625,"color":"#fff"},{"offset":0.275,"color":"#fff"},
{"offset":0.275,"color":"#000"},{"offset":0.2875,"color":"#000"},{"offset":0.2875,"color":"#fff"},{"offset":0.3,"color":"#fff"},
{"offset":0.3,"color":"#000"},{"offset":0.3125,"color":"#000"},{"offset":0.3125,"color":"#fff"},{"offset":0.325,"color":"#fff"},
{"offset":0.325,"color":"#000"},{"offset":0.3375,"color":"#000"},{"offset":0.3375,"color":"#fff"},{"offset":0.35,"color":"#fff"},
{"offset":0.35,"color":"#000"},{"offset":0.3625,"color":"#000"},{"offset":0.3625,"color":"#fff"},{"offset":0.375,"color":"#fff"},
{"offset":0.375,"color":"#000"},{"offset":0.3875,"color":"#000"},{"offset":0.3875,"color":"#fff"},{"offset":0.4,"color":"#fff"},
{"offset":0.4,"color":"#000"},{"offset":0.4125,"color":"#000"},{"offset":0.4125,"color":"#fff"},{"offset":0.425,"color":"#fff"},
{"offset":0.425,"color":"#000"},{"offset":0.4375,"color":"#000"},{"offset":0.4375,"color":"#fff"},{"offset":0.45,"color":"#fff"},
{"offset":0.45,"color":"#000"},{"offset":0.4625,"color":"#000"},{"offset":0.4625,"color":"#fff"},{"offset":0.475,"color":"#fff"},
{"offset":0.475,"color":"#000"},{"offset":0.4875,"color":"#000"},{"offset":0.4875,"color":"#fff"},{"offset":0.5,"color":"#fff"},
{"offset":0.5,"color":"#000"},{"offset":0.5125,"color":"#000"},{"offset":0.5125,"color":"#fff"},{"offset":0.525,"color":"#fff"},
{"offset":0.525,"color":"#000"},{"offset":0.5375,"color":"#000"},{"offset":0.5375,"color":"#fff"},{"offset":0.55,"color":"#fff"}
                ]}},
                {"test": "datum.cat === 'Personal'", "value": "#bdbdbd"}
              ],
              "value": "#e4e4e4"
            }
          }
        },
        {
          "mark": {"type": "text", "font": "DejaVu Sans", "fontSize": 13, "fontWeight": "bold", "color": "#000", "baseline": "top", "align": "center", "lineBreak": "\n", "lineHeight": 14, "dy": 9},
          "encoding": {
            "y": {"datum": "swatch", "type": "nominal", "bandPosition": 1, "scale": {"domain": ["swatch"], "range": [552, 584], "paddingInner": 0, "paddingOuter": 0}, "axis": null},
            "text": {"field": "label", "type": "nominal"}
          }
        }
      ]
    },
    {
      "data": {"name": "ticks"},
      "encoding": {
        "x": {"field": "t", "type": "quantitative", "scale": {"domain": [0, 100], "range": [93, 568], "nice": false, "zero": false}, "axis": null}
      },
      "layer": [
        {
          "mark": {"type": "rule", "color": "#000", "strokeWidth": 1.5},
          "encoding": {
            "x": {"datum": 0, "type": "quantitative", "scale": {"domain": [0, 100], "range": [93, 568], "nice": false, "zero": false}, "axis": null},
            "x2": {"datum": 100},
            "y": {"datum": 0, "type": "quantitative", "scale": {"domain": [0, 1], "range": [71, 77], "nice": false, "zero": false}, "axis": null}
          }
        },
        {
          "mark": {"type": "rule", "color": "#000", "strokeWidth": 1.5},
          "encoding": {
            "y": {"datum": 0, "type": "quantitative", "scale": {"domain": [0, 1], "range": [71, 77], "nice": false, "zero": false}, "axis": null},
            "y2": {"datum": 1}
          }
        }
      ]
    }
  ],
  "resolve": {"scale": {"x": "independent", "y": "independent"}}
}
